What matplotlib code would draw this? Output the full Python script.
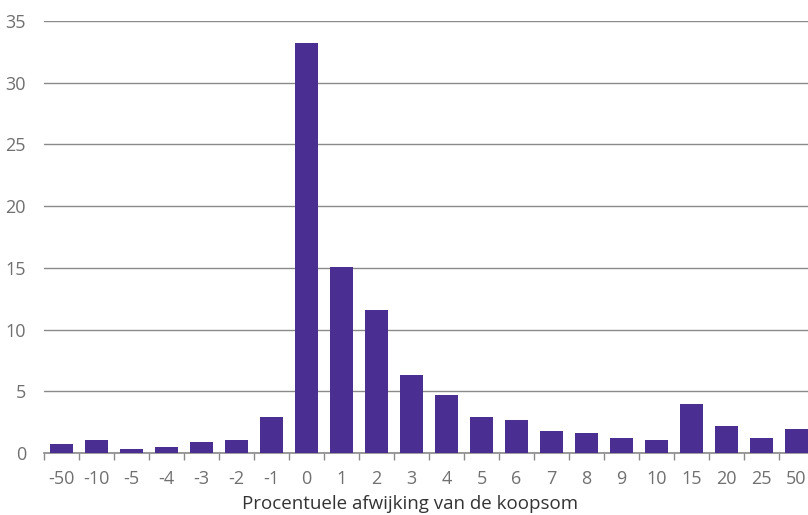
import numpy as np
import matplotlib.pyplot as plt

categorieen = ["-50", "-10", "-5", "-4", "-3", "-2", "-1", "0", "1", "2", "3",
               "4", "5", "6", "7", "8", "9", "10", "15", "20", "25", "50"]
percentages = [0.7, 1.05, 0.3, 0.5, 0.9, 1.05, 2.9, 33.2, 15.1, 11.6, 6.3,
               4.7, 2.9, 2.7, 1.8, 1.6, 1.2, 1.05, 4.0, 2.2, 1.2, 1.95]

plt.rcParams["font.family"] = ["Open Sans", "DejaVu Sans"]

fig = plt.figure(figsize=(8.08, 5.15), dpi=100)
ax = fig.add_axes([44 / 808, 1 - 453 / 515, 770 / 808, 432 / 515])

x = np.arange(len(categorieen))
ax.bar(x, percentages, width=0.66, color="#4B2E91", zorder=3)

ax.set_xlim(-0.5, len(categorieen) - 0.5)
ax.set_ylim(0, 35)
ax.set_yticks(np.arange(0, 36, 5))
ax.grid(axis="y", color="#8a8a8a", linewidth=1.0, zorder=0)
ax.tick_params(axis="y", length=0, pad=13, labelsize=13, labelcolor="#707070")

ax.set_xticks(x)
ax.set_xticklabels(categorieen)
ax.set_xticks(np.arange(-0.5, len(categorieen), 1), minor=True)
ax.tick_params(axis="x", which="major", length=0, pad=12, labelsize=13, labelcolor="#707070")
ax.tick_params(axis="x", which="minor", length=5, width=1, color="#8a8a8a")

for s in ["top", "right", "left"]:
    ax.spines[s].set_visible(False)
ax.spines["bottom"].set_color("#8a8a8a")
ax.spines["bottom"].set_linewidth(1.2)

ax.set_xlabel("Procentuele afwijking van de koopsom", fontsize=13.5, color="#333333")
ax.xaxis.set_label_coords(0.475, -0.097)

fig.savefig("out.png", dpi=100)
